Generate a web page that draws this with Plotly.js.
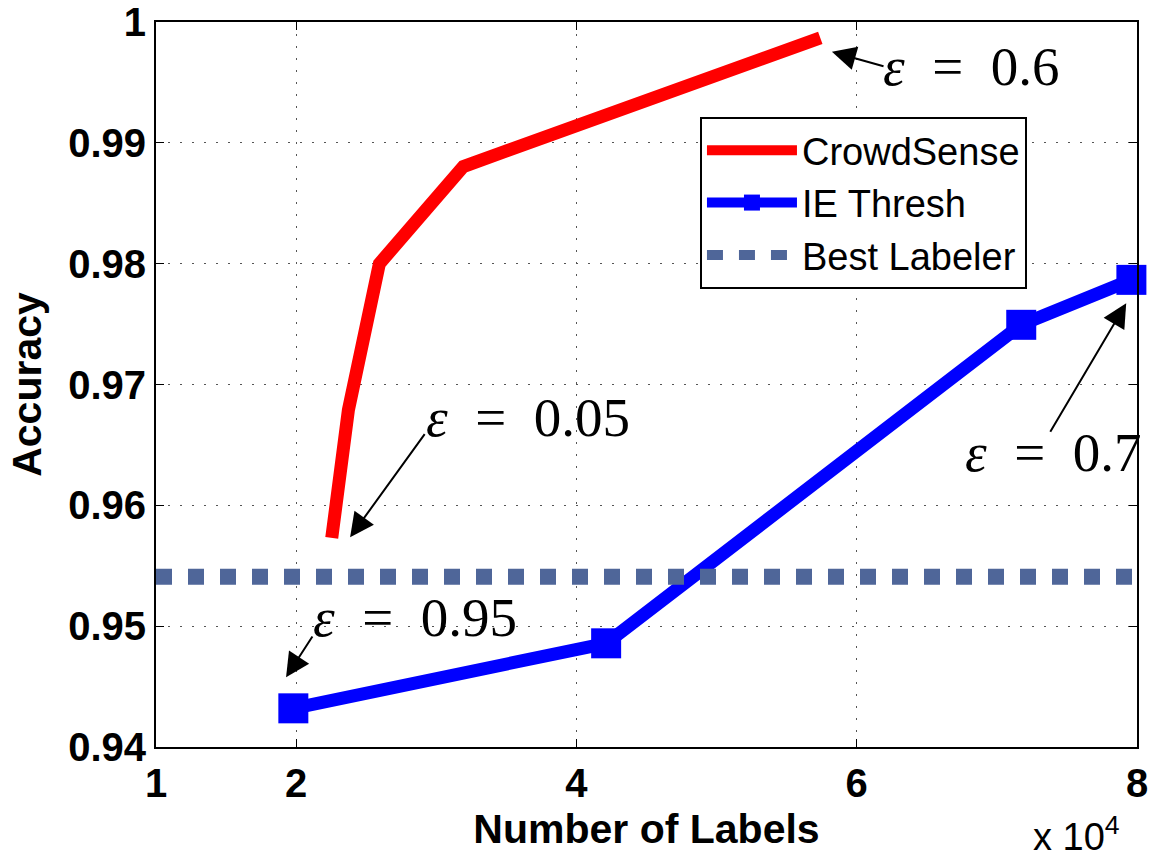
<!DOCTYPE html>
<html>
<head>
<meta charset="utf-8">
<script src="https://cdn.plot.ly/plotly-3.0.1.min.js"></script>
<style>html,body{margin:0;padding:0;background:#fff;}#chart{width:1151px;height:863px;}</style>
</head>
<body>
<div id="chart"></div>
<script>
// ---- data (x in units of 10^4 labels) ----
const crowdX = [2.254, 2.373, 2.594, 3.193, 5.74];
const crowdY = [0.9573, 0.9679, 0.9800, 0.98804, 0.99869];

const ieX = [1.98, 4.212, 7.174, 7.96];
const ieY = [0.9432, 0.94858, 0.97494, 0.97866];

const bestX = [1, 8];
const bestY = [0.9541, 0.9541];

const xTicks = [1, 2, 4, 6, 8];
const xTickText = ['1', '2', '4', '6', '8'];
const yTicks = [0.94, 0.95, 0.96, 0.97, 0.98, 0.99, 1.0];
const yTickText = ['0.94', '0.95', '0.96', '0.97', '0.98', '0.99', '1'];

// epsilon annotations: label, text position, arrow tail, arrow head
const epsLabels = ['0.6', '0.05', '0.95', '0.7'];
const epsTextX = [6.817, 3.652, 2.849, 7.401];
const epsTextY = [0.99628, 0.96723, 0.95068, 0.96441];
const arrowTailX = [6.202, 2.925, 2.123, 7.375];
const arrowTailY = [0.9963, 0.96601, 0.94927, 0.96596];
const arrowHeadX = [5.823, 2.385, 1.928, 7.923];
const arrowHeadY = [0.99754, 0.95736, 0.94577, 0.97672];

const traces = [
  {x: crowdX, y: crowdY, name: 'CrowdSense', mode: 'lines',
   line: {color: '#ff0000', width: 13}},
  {x: ieX, y: ieY, name: 'IE Thresh', mode: 'lines+markers',
   line: {color: '#0000ff', width: 13},
   marker: {symbol: 'square', size: 30, color: '#0000ff'}, cliponaxis: false},
  {x: bestX, y: bestY, name: 'Best Labeler', mode: 'lines',
   line: {color: '#4f6699', width: 16, dash: '16px,16px'}}
];

const annotations = [];
for (let i = 0; i < epsLabels.length; i++) {
  annotations.push({
    x: arrowHeadX[i], y: arrowHeadY[i], xref: 'x', yref: 'y',
    ax: arrowTailX[i], ay: arrowTailY[i], axref: 'x', ayref: 'y',
    text: '', showarrow: true, arrowhead: 2, arrowsize: 2.4, arrowwidth: 2,
    arrowcolor: '#000', standoff: 0, startstandoff: 0
  });
  annotations.push({
    x: epsTextX[i], y: epsTextY[i], xref: 'x', yref: 'y',
    text: '<i>ε</i>\u2002=\u2002' + epsLabels[i], showarrow: false,
    xanchor: 'center', yanchor: 'middle',
    font: {family: 'Liberation Serif, DejaVu Serif, serif', size: 55, color: '#000'}
  });
}
annotations.push({
  xref: 'paper', yref: 'paper', x: 0.985, y: -0.156, xanchor: 'right', yanchor: 'bottom',
  text: 'x 10<sup>4</sup>', showarrow: false,
  font: {family: 'Liberation Sans, Arial, sans-serif', size: 38, color: '#000'}
});

const axisFont = {family: 'Liberation Sans, Arial, sans-serif', size: 40, color: '#000', weight: 'bold'};

const layout = {
  width: 1151, height: 863,
  margin: {l: 156, r: 14, t: 22, b: 116},
  paper_bgcolor: '#fff', plot_bgcolor: '#fff',
  showlegend: true,
  legend: {
    x: 0.5545, y: 0.869, xanchor: 'left', yanchor: 'top',
    bgcolor: '#fff', bordercolor: '#000', borderwidth: 2,
    font: {family: 'Liberation Sans, Arial, sans-serif', size: 38, color: '#000'},
    itemwidth: 90, tracegroupgap: 0
  },
  xaxis: {
    range: [1, 8], tickvals: xTicks, ticktext: xTickText,
    showline: true, linecolor: '#000', linewidth: 2, mirror: 'ticks',
    ticks: 'inside', ticklen: 8, tickcolor: '#000', tickwidth: 1,
    showgrid: true, gridcolor: '#555', griddash: '2px,10px', gridwidth: 1.2,
    zeroline: false, tickfont: axisFont,
    title: {text: '<b>Number of Labels</b>', font: {family: 'Liberation Sans, Arial, sans-serif', size: 41, color: '#000'}, standoff: 10}
  },
  yaxis: {
    range: [0.94, 1.0], tickvals: yTicks, ticktext: yTickText,
    showline: true, linecolor: '#000', linewidth: 2, mirror: 'ticks',
    ticks: 'inside', ticklen: 8, tickcolor: '#000', tickwidth: 1,
    showgrid: true, gridcolor: '#555', griddash: '2px,10px', gridwidth: 1.2,
    zeroline: false, tickfont: axisFont,
    title: {text: '<b>Accuracy</b>', font: {family: 'Liberation Sans, Arial, sans-serif', size: 41, color: '#000'}, standoff: 14}
  },
  annotations: annotations
};

Plotly.newPlot('chart', traces, layout, {displayModeBar: false, staticPlot: true});
</script>
</body>
</html>
